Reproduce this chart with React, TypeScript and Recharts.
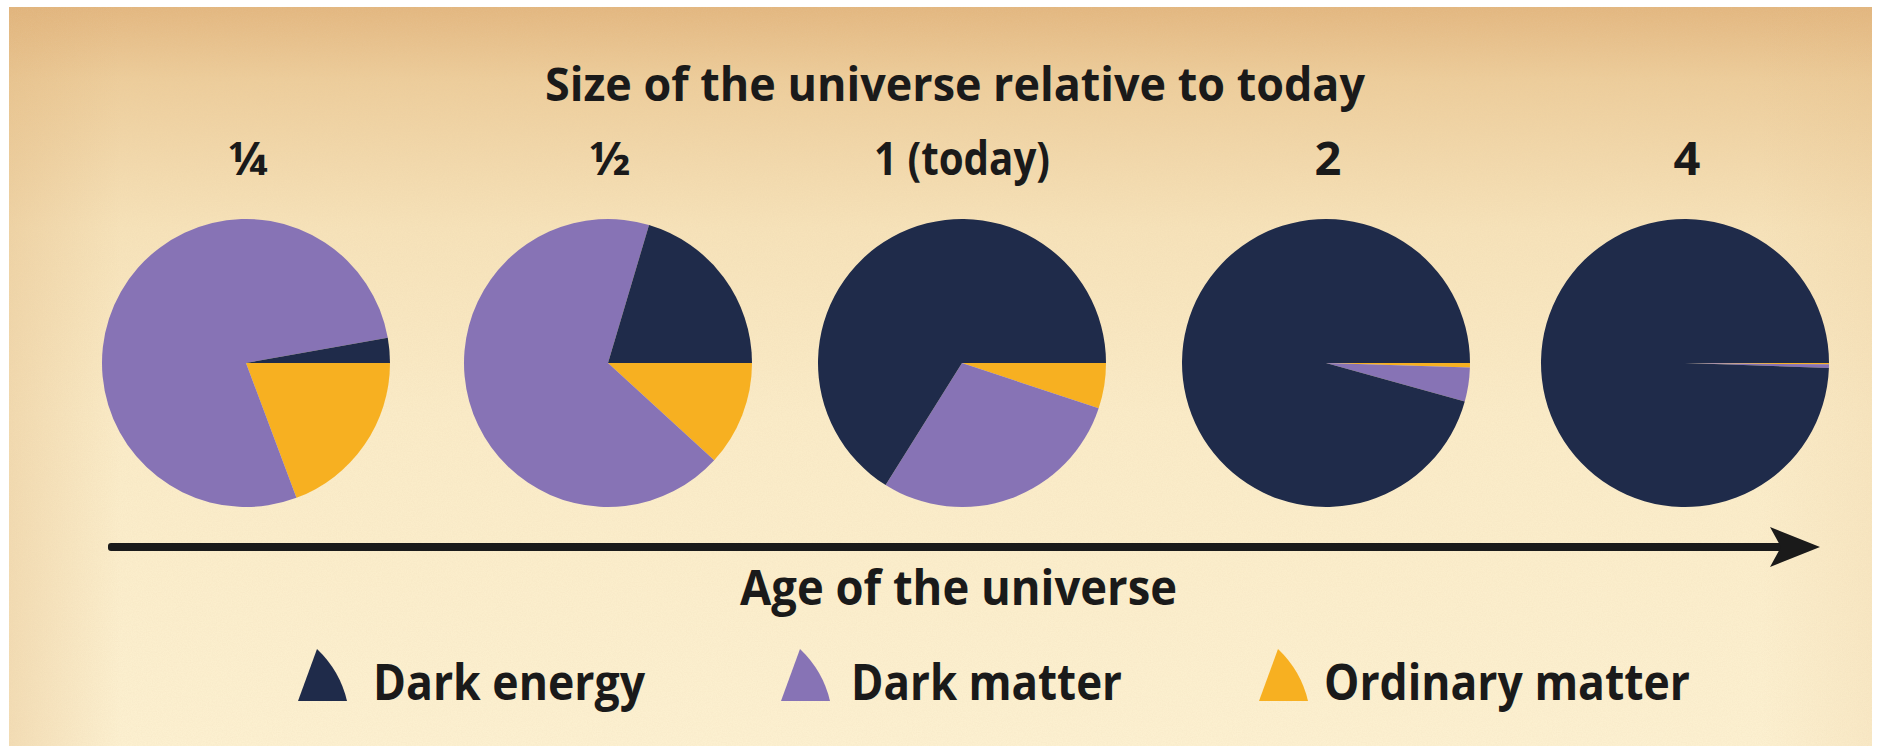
import React from "react";
import { Cell, Pie, PieChart } from "recharts";

// scale factor of the universe for each pie
const sizeLabels = ["¼", "½", "1 (today)", "2", "4"];

// share of the energy budget at each size, in percent
const ordinaryMatter = [19.3, 11.8, 5.1, 0.5, 0.15];
const darkMatter = [77.9, 67.8, 28.8, 3.8, 0.4];
const darkEnergy = [2.8, 20.4, 66.1, 95.7, 99.45];

const components = ["Ordinary matter", "Dark matter", "Dark energy"];
const legendItems = ["Dark energy", "Dark matter", "Ordinary matter"];

const COLORS: Record<string, string> = {
  "Dark energy": "#1f2b4a",
  "Dark matter": "#8773b5",
  "Ordinary matter": "#f7b021",
};

const W = 1877;
const H = 746;
const PIE_X = [246, 608, 962, 1326, 1685];
const PIE_Y = 363;
const RADIUS = 144;
const FONT = "'Open Sans', 'Noto Sans', sans-serif";
const INK = "#1a1a1a";

const series = [ordinaryMatter, darkMatter, darkEnergy];

function pieData(i: number) {
  return components.map((name, j) => ({ name, value: series[j][i] }));
}

// legend positions: icon left, text left, text width
const LEGEND = [
  { icon: 297, text: 373, width: 272 },
  { icon: 780, text: 851, width: 271 },
  { icon: 1258, text: 1324, width: 366 },
];

// pointed fin used as the legend swatch: straight left side, slightly bulging right side
function Fin({ x, color }: { x: number; color: string }) {
  const top = 649;
  const bottom = 701;
  const h = bottom - top;
  const w = 50;
  const apex = x + w * 0.4;
  const d =
    `M ${apex} ${top} L ${x + 1} ${bottom} ` +
    `L ${x + w} ${bottom} Q ${x + w * 0.86} ${top + h * 0.42} ${apex} ${top} Z`;
  return <path d={d} fill={color} />;
}

function Backdrop() {
  return (
    <svg width={W} height={H} style={{ position: "absolute", left: 0, top: 0 }}>
      <defs>
        <linearGradient id="paper" x1="0" y1="0" x2="0" y2="1">
          <stop offset="0" stopColor="#e3b780" />
          <stop offset="0.1" stopColor="#edcd9b" />
          <stop offset="0.3" stopColor="#f6e2b9" />
          <stop offset="0.55" stopColor="#faebc7" />
          <stop offset="1" stopColor="#fcf0d0" />
        </linearGradient>
        <linearGradient id="edge" x1="0" y1="0" x2="1" y2="0">
          <stop offset="0" stopColor="#dcae74" stopOpacity="0.3" />
          <stop offset="0.06" stopColor="#dcae74" stopOpacity="0" />
          <stop offset="0.94" stopColor="#dcae74" stopOpacity="0" />
          <stop offset="1" stopColor="#dcae74" stopOpacity="0.12" />
        </linearGradient>
        <filter id="grain" x="0" y="0" width="100%" height="100%">
          <feTurbulence type="fractalNoise" baseFrequency="0.8" numOctaves="2" seed="3" />
          <feColorMatrix
            type="matrix"
            values="0 0 0 0 0.78  0 0 0 0 0.6  0 0 0 0 0.4  0 0 0 0.5 -0.18"
          />
        </filter>
      </defs>
      <rect x={0} y={0} width={W} height={H} fill="#ffffff" />
      <rect x={9} y={7} width={W - 14} height={H - 7} fill="url(#paper)" />
      <rect x={9} y={7} width={W - 14} height={H - 7} fill="url(#edge)" />
      <rect x={9} y={7} width={W - 14} height={H - 7} filter="url(#grain)" opacity={0.5} />

      <g fontFamily={FONT} fontWeight={700} fill={INK}>
        <text x={545} y={101} fontSize={47} textLength={820} lengthAdjust="spacingAndGlyphs">
          Size of the universe relative to today
        </text>
        {sizeLabels.map((label, i) =>
          label.length > 1 ? (
            <text
              key={label}
              x={PIE_X[i] - 88}
              y={175}
              fontSize={47}
              textLength={176}
              lengthAdjust="spacingAndGlyphs"
            >
              {label}
            </text>
          ) : (
            <text key={label} x={PIE_X[i] + 2} y={175} fontSize={47} textAnchor="middle">
              {label}
            </text>
          )
        )}
        <text x={740} y={605} fontSize={49} textLength={437} lengthAdjust="spacingAndGlyphs">
          Age of the universe
        </text>
        {legendItems.map((name, i) => (
          <g key={name}>
            <Fin x={LEGEND[i].icon} color={COLORS[name]} />
            <text
              x={LEGEND[i].text}
              y={700}
              fontSize={51}
              textLength={LEGEND[i].width}
              lengthAdjust="spacingAndGlyphs"
            >
              {name}
            </text>
          </g>
        ))}
      </g>

      {/* time axis */}
      <g fill={INK}>
        <rect x={108} y={543} width={1675} height={8} rx={3} />
        <path d="M 1820 547 L 1770 527 L 1781 547 L 1770 567 Z" />
      </g>
    </svg>
  );
}

export default function App() {
  return (
    <div style={{ position: "fixed", left: 0, top: 0, width: W, height: H, overflow: "hidden" }}>
      <Backdrop />
      <div style={{ position: "absolute", left: 0, top: 0 }}>
        <PieChart width={W} height={H} margin={{ top: 0, right: 0, bottom: 0, left: 0 }}>
          {sizeLabels.map((label, i) => (
            <Pie
              key={label}
              data={pieData(i)}
              dataKey="value"
              nameKey="name"
              cx={PIE_X[i]}
              cy={PIE_Y}
              outerRadius={RADIUS}
              startAngle={0}
              endAngle={-360}
              stroke="none"
              isAnimationActive={false}
            >
              {components.map((name) => (
                <Cell key={name} fill={COLORS[name]} />
              ))}
            </Pie>
          ))}
        </PieChart>
      </div>
    </div>
  );
}
